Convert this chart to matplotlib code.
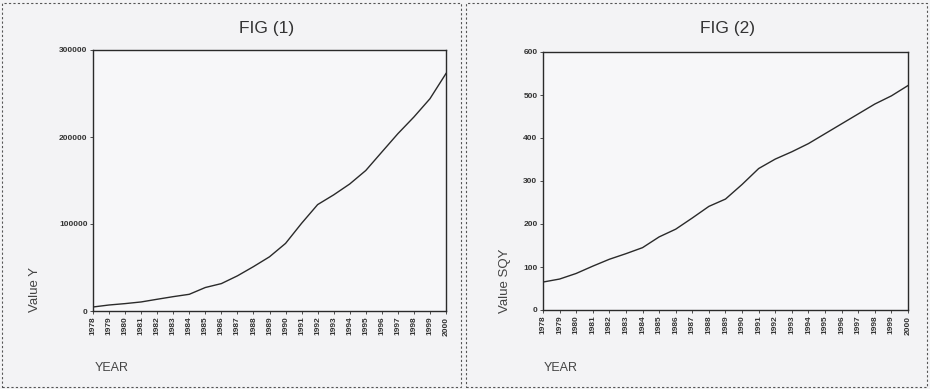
import matplotlib.pyplot as plt
from matplotlib.patches import Rectangle

plt.rcParams['font.family'] = ['Liberation Sans', 'DejaVu Sans']

years = list(range(1978, 2001))
value_y = [4600, 6900, 8500, 10400, 13500, 16500, 19200, 27000, 31500, 40400,
           51000, 62300, 77700, 100800, 122300, 133500, 146000, 161500,
           182700, 203800, 223000, 244000, 273000]
value_sqy = [65, 72, 85, 102, 118, 131, 145, 170, 188, 214, 241, 258, 292,
             329, 351, 368, 387, 410, 433, 456, 479, 498, 522]

y1_ticks = [0, 100000, 200000, 300000]
y2_ticks = [0, 100, 200, 300, 400, 500, 600]

W, H = 930, 389
fig = plt.figure(figsize=(W / 100, H / 100), dpi=100, facecolor='#f3f3f5')


def px_axes(left, top, right, bottom):
    return fig.add_axes([left / W, 1 - bottom / H, (right - left) / W, (bottom - top) / H])


def style(ax, y, yticks, ymax):
    ax.plot(years, y, color='#2a2a2a', lw=1.0)
    ax.set_xlim(1978, 2000)
    ax.set_ylim(0, ymax)
    ax.set_facecolor('#f7f7f9')
    ax.set_xticks(years)
    ax.set_xticklabels([str(v) for v in years], rotation=90, fontsize=6,
                       fontweight='bold', color='#333333')
    ax.set_yticks(yticks)
    ax.set_yticklabels([str(v) for v in yticks], fontsize=6,
                       fontweight='bold', color='#333333')
    ax.tick_params(length=2, width=0.6, pad=2, colors='#333333')
    for s in ax.spines.values():
        s.set_color('#2a2a2a')
        s.set_linewidth(1.0)


ax1 = px_axes(93, 50, 446, 311)
style(ax1, value_y, y1_ticks, 300000)
ax2 = px_axes(543, 52, 908, 310)
style(ax2, value_sqy, y2_ticks, 600)

fig.text(267 / W, 1 - 28 / H, 'FIG (1)', ha='center', va='center', fontsize=12.5, color='#333333')
fig.text(727 / W, 1 - 28 / H, 'FIG (2)', ha='center', va='center', fontsize=12.5, color='#333333')

fig.text(35 / W, 1 - 312 / H, 'Value Y', rotation=90, ha='center', va='bottom',
         fontsize=9.5, color='#444444')
fig.text(505 / W, 1 - 313 / H, 'Value SQY', rotation=90, ha='center', va='bottom',
         fontsize=9.5, color='#444444')

fig.text(95 / W, 1 - 368 / H, 'YEAR', ha='left', va='center', fontsize=9, color='#444444')
fig.text(544 / W, 1 - 368 / H, 'YEAR', ha='left', va='center', fontsize=9, color='#444444')

# dashed panel frames
for x0, x1 in [(2, 461), (466, 927)]:
    fig.patches.append(Rectangle((x0 / W, 2 / H), (x1 - x0) / W, (H - 5) / H,
                                 transform=fig.transFigure, fill=False,
                                 edgecolor='#555555', lw=0.8, ls=(0, (2, 2))))

fig.savefig('out.png', dpi=100, facecolor=fig.get_facecolor())
